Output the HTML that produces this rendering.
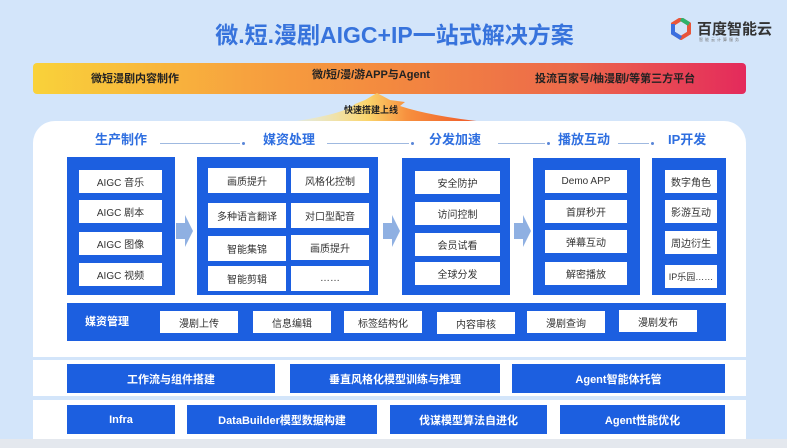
<!DOCTYPE html>
<html><head><meta charset="utf-8"><style>
*{margin:0;padding:0;box-sizing:border-box}
body{width:787px;height:448px;overflow:hidden;background:#d3e5fa;font-family:"Liberation Sans","Noto Sans CJK SC",sans-serif;position:relative}
.a{position:absolute}
.blue{position:absolute;background:#1c5fe0}
.w{position:absolute;background:#fff;color:#333;font-size:10px;display:flex;align-items:center;justify-content:center;white-space:nowrap}
.bb{position:absolute;background:#1c5fe0;color:#fff;font-size:11px;font-weight:bold;display:flex;align-items:center;justify-content:center}
.h{position:absolute;color:#2f6fe0;font-size:13px;font-weight:bold;top:129px}
.ln{position:absolute;top:143px;height:1px;background:#9fb9e0}
.dot{position:absolute;top:142px;width:3px;height:3px;background:#5a86d8;border-radius:50%}
</style></head><body>
<div class="a" style="left:0;top:16px;width:787px;text-align:center;font-size:23px;font-weight:bold;color:#3773dc;padding-left:2px">微.短.漫剧AIGC+IP一站式解决方案</div>
<svg class="a" style="left:671px;top:18px" width="20" height="22" viewBox="0 0 20 22"><path d="M10 1 L18 6 L18 15 L10 20 L2 15 L2 6 Z" fill="none" stroke="#e8553a" stroke-width="4"/><path d="M2 6 L2 15 L10 20" fill="none" stroke="#3a6fe0" stroke-width="4"/><path d="M10 1 L18 6" stroke="#2db36b" stroke-width="4"/></svg>
<div class="a" style="left:697px;top:18px;font-size:15px;font-weight:bold;color:#333">百度智能云</div>
<div class="a" style="left:699px;top:37px;font-size:4px;color:#777;letter-spacing:2px">智能云计算服务</div>
<div class="a" style="left:33px;top:63px;width:713px;height:31px;border-radius:4px;background:linear-gradient(90deg,#f9d23a,#f7a23e 30%,#f3893f 50%,#ec6a4a 75%,#e42a5c)"></div>
<div class="a" style="left:91px;top:70px;font-size:11px;font-weight:bold;color:#222">微短漫剧内容制作</div>
<div class="a" style="left:312px;top:66px;font-size:11px;font-weight:bold;color:#222">微/短/漫/游APP与Agent</div>
<div class="a" style="left:535px;top:70px;font-size:11px;font-weight:bold;color:#222">投流百家号/柚漫剧/等第三方平台</div>
<svg class="a" style="left:170px;top:92px" width="340" height="32"><defs><linearGradient id="g" x1="0" x2="1"><stop offset="0" stop-color="#fdf2b0" stop-opacity="0.3"/><stop offset="0.4" stop-color="#fbd46a"/><stop offset="0.6" stop-color="#f7903e"/><stop offset="1" stop-color="#ee5226"/></linearGradient></defs><path d="M120 30 Q175 22 185 12 L195 8 L207 1 L220 8 L235 10 L230 14 Q260 24 315 30 Z" fill="url(#g)"/></svg>
<div class="a" style="left:344px;top:103px;font-size:9px;font-weight:bold;color:#222">快速搭建上线</div>
<div class="a" style="left:33px;top:121px;width:713px;height:236px;background:#fff;border-radius:22px 22px 0 0"></div>
<div class="a" style="left:33px;top:360px;width:713px;height:36px;background:#fff"></div>
<div class="a" style="left:33px;top:400px;width:713px;height:39px;background:#fff"></div>
<div class="a" style="left:0;top:439px;width:787px;height:9px;background:#e4e8ee"></div>
<div class="h" style="left:95px">生产制作</div>
<div class="ln" style="left:160px;width:80px"></div><div class="dot" style="left:242px"></div>
<div class="h" style="left:263px">媒资处理</div>
<div class="ln" style="left:327px;width:82px"></div><div class="dot" style="left:411px"></div>
<div class="h" style="left:429px">分发加速</div>
<div class="ln" style="left:498px;width:47px"></div><div class="dot" style="left:547px"></div>
<div class="h" style="left:558px">播放互动</div>
<div class="ln" style="left:618px;width:31px"></div><div class="dot" style="left:651px"></div>
<div class="h" style="left:668px">IP开发</div>
<div class="blue" style="left:67px;top:157px;width:108px;height:138px"></div>
<div class="w" style="left:79px;top:170px;width:83px;height:23px">AIGC 音乐</div>
<div class="w" style="left:79px;top:200px;width:83px;height:23px">AIGC 剧本</div>
<div class="w" style="left:79px;top:232px;width:83px;height:23px">AIGC 图像</div>
<div class="w" style="left:79px;top:263px;width:83px;height:23px">AIGC 视频</div>
<svg class="a" style="left:176px;top:215px" width="18" height="32"><path d="M0 8 H9 V0 L17 16 L9 32 V24 H0Z" fill="#8fb0e2"/></svg>
<div class="blue" style="left:197px;top:157px;width:181px;height:138px"></div>
<div class="w" style="left:208px;top:168px;width:78px;height:25px">画质提升</div>
<div class="w" style="left:291px;top:168px;width:78px;height:25px">风格化控制</div>
<div class="w" style="left:208px;top:203px;width:78px;height:25px">多种语言翻译</div>
<div class="w" style="left:291px;top:203px;width:78px;height:25px">对口型配音</div>
<div class="w" style="left:208px;top:236px;width:78px;height:25px">智能集锦</div>
<div class="w" style="left:291px;top:235px;width:78px;height:25px">画质提升</div>
<div class="w" style="left:208px;top:266px;width:78px;height:25px">智能剪辑</div>
<div class="w" style="left:291px;top:266px;width:78px;height:25px">……</div>
<svg class="a" style="left:383px;top:215px" width="18" height="32"><path d="M0 8 H9 V0 L17 16 L9 32 V24 H0Z" fill="#8fb0e2"/></svg>
<div class="blue" style="left:402px;top:158px;width:108px;height:137px"></div>
<div class="w" style="left:415px;top:171px;width:85px;height:23px">安全防护</div>
<div class="w" style="left:415px;top:202px;width:85px;height:23px">访问控制</div>
<div class="w" style="left:415px;top:233px;width:85px;height:23px">会员试看</div>
<div class="w" style="left:415px;top:262px;width:85px;height:23px">全球分发</div>
<svg class="a" style="left:514px;top:215px" width="18" height="32"><path d="M0 8 H9 V0 L17 16 L9 32 V24 H0Z" fill="#8fb0e2"/></svg>
<div class="blue" style="left:533px;top:158px;width:107px;height:137px"></div>
<div class="w" style="left:545px;top:170px;width:82px;height:23px">Demo APP</div>
<div class="w" style="left:545px;top:200px;width:82px;height:23px">首屏秒开</div>
<div class="w" style="left:545px;top:230px;width:82px;height:23px">弹幕互动</div>
<div class="w" style="left:545px;top:262px;width:82px;height:23px">解密播放</div>
<div class="blue" style="left:652px;top:158px;width:74px;height:137px"></div>
<div class="w" style="left:665px;top:170px;width:52px;height:23px">数字角色</div>
<div class="w" style="left:665px;top:200px;width:52px;height:23px">影游互动</div>
<div class="w" style="left:665px;top:231px;width:52px;height:23px">周边衍生</div>
<div class="w" style="left:665px;top:265px;width:52px;height:23px;font-size:9px">IP乐园……</div>
<div class="blue" style="left:67px;top:303px;width:659px;height:38px"></div>
<div class="a" style="left:85px;top:313px;color:#fff;font-size:11px;font-weight:bold">媒资管理</div>
<div class="w" style="left:160px;top:311px;width:78px;height:22px">漫剧上传</div>
<div class="w" style="left:253px;top:311px;width:78px;height:22px">信息编辑</div>
<div class="w" style="left:344px;top:311px;width:78px;height:22px">标签结构化</div>
<div class="w" style="left:437px;top:312px;width:78px;height:22px">内容审核</div>
<div class="w" style="left:527px;top:311px;width:78px;height:22px">漫剧查询</div>
<div class="w" style="left:619px;top:310px;width:78px;height:22px">漫剧发布</div>
<div class="bb" style="left:67px;top:364px;width:208px;height:29px">工作流与组件搭建</div>
<div class="bb" style="left:290px;top:364px;width:210px;height:29px">垂直风格化模型训练与推理</div>
<div class="bb" style="left:512px;top:364px;width:213px;height:29px">Agent智能体托管</div>
<div class="bb" style="left:67px;top:405px;width:108px;height:29px">Infra</div>
<div class="bb" style="left:187px;top:405px;width:190px;height:29px">DataBuilder模型数据构建</div>
<div class="bb" style="left:390px;top:405px;width:157px;height:29px">伐谋模型算法自进化</div>
<div class="bb" style="left:560px;top:405px;width:165px;height:29px">Agent性能优化</div>
</body></html>
